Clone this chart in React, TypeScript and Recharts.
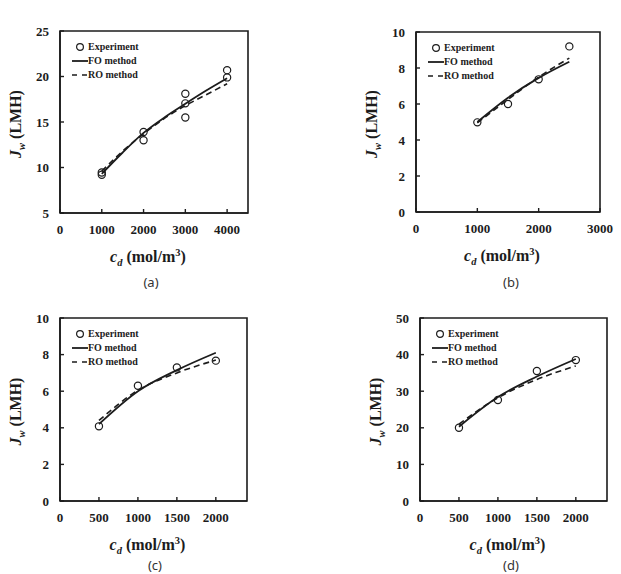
import {
  ComposedChart,
  Line,
  Scatter,
  XAxis,
  YAxis,
  Legend,
  Label,
  ReferenceArea
} from "recharts";

const SERIF = '"Liberation Serif", "Times New Roman", serif';
const INK = "#1c1c1c";

// (a)
const concA = [1000, 1500, 2000, 2500, 3000, 3500, 4000];
const foFluxA = [9.3, 11.65, 13.8, 15.5, 17.0, 18.45, 19.8];
const roFluxA = [9.6, 11.8, 13.7, 15.4, 16.8, 18.0, 19.2];
const expConcA = [1000, 1000, 2000, 2000, 3000, 3000, 3000, 4000, 4000];
const expFluxA = [9.2, 9.45, 13.9, 13.0, 18.1, 17.05, 15.5, 20.7, 19.9];
const xTicksA = [0, 1000, 2000, 3000, 4000];
const yTicksA = [5, 10, 15, 20, 25];

// (b)
const concB = [1000, 1500, 2000, 2500];
const foFluxB = [5.0, 6.35, 7.45, 8.35];
const roFluxB = [4.95, 6.25, 7.5, 8.55];
const expConcB = [1000, 1500, 2000, 2500];
const expFluxB = [4.98, 6.0, 7.37, 9.2];
const xTicksB = [0, 1000, 2000, 3000];
const yTicksB = [0, 2, 4, 6, 8, 10];

// (c)
const concC = [500, 1000, 1500, 2000];
const foFluxC = [4.2, 6.0, 7.15, 8.1];
const roFluxC = [4.4, 6.05, 7.0, 7.7];
const expConcC = [500, 1000, 1500, 2000];
const expFluxC = [4.08, 6.3, 7.3, 7.67];
const xTicksC = [0, 500, 1000, 1500, 2000];
const yTicksC = [0, 2, 4, 6, 8, 10];

// (d)
const concD = [500, 1000, 1500, 2000];
const foFluxD = [20.3, 28.4, 34.0, 38.8];
const roFluxD = [21.0, 28.2, 33.2, 36.9];
const expConcD = [500, 1000, 1500, 2000];
const expFluxD = [20.0, 27.6, 35.5, 38.5];
const xTicksD = [0, 500, 1000, 1500, 2000];
const yTicksD = [0, 10, 20, 30, 40, 50];

type Pt = { c: number; j: number };
const toPoints = (xs: number[], ys: number[]): Pt[] =>
  xs.map((c, i) => ({ c, j: ys[i] }));

const CHART_W = 310;
const CHART_H = 287;
const Y_AXIS_W = 60;
const X_AXIS_H = 40;

const XTitle = ({ viewBox }: any) => {
  const { x, y, width } = viewBox;
  return (
    <text
      x={x + width / 2 - 6}
      y={y + 49}
      textAnchor="middle"
      fill={INK}
      fontFamily={SERIF}
      fontWeight={700}
      fontSize={16}
    >
      <tspan fontStyle="italic">c</tspan>
      <tspan fontStyle="italic" fontSize={10.5} dy={4}>d</tspan>
      <tspan dy={-4}> (mol/m</tspan>
      <tspan fontSize={10.5} dy={-6}>3</tspan>
      <tspan dy={6}>)</tspan>
    </text>
  );
};

const YTitle = ({ viewBox }: any) => {
  const { x, y, width, height } = viewBox;
  const cx = x + width - 44;
  const cy = y + height / 2 + 2;
  return (
    <text
      x={cx}
      y={cy + 5}
      transform={`rotate(-90, ${cx}, ${cy})`}
      textAnchor="middle"
      fill={INK}
      fontFamily={SERIF}
      fontWeight={700}
      fontSize={16}
    >
      <tspan fontStyle="italic">J</tspan>
      <tspan fontStyle="italic" fontSize={10.5} dy={4}>w</tspan>
      <tspan dy={-4}> (LMH)</tspan>
    </text>
  );
};

const FluxLegend = () => {
  const row = { display: "flex", alignItems: "center", height: 14 };
  return (
    <div
      style={{
        fontFamily: SERIF,
        fontWeight: 700,
        fontSize: 10,
        color: INK,
        lineHeight: "14px",
        whiteSpace: "nowrap"
      }}
    >
      <div style={row}>
        <svg width={16} height={14}>
          <circle cx={8} cy={7} r={3.4} fill="none" stroke={INK} strokeWidth={1.2} />
        </svg>
        <span>Experiment</span>
      </div>
      <div style={row}>
        <svg width={16} height={14}>
          <line x1={0} y1={7} x2={16} y2={7} stroke={INK} strokeWidth={1.8} />
        </svg>
        <span>FO method</span>
      </div>
      <div style={row}>
        <svg width={16} height={14}>
          <line
            x1={0}
            y1={7}
            x2={16}
            y2={7}
            stroke={INK}
            strokeWidth={1.6}
            strokeDasharray="5 5"
          />
        </svg>
        <span>RO method</span>
      </div>
    </div>
  );
};

const OpenCircle = (props: any) => (
  <circle
    cx={props.cx}
    cy={props.cy}
    r={3.6}
    fill="none"
    stroke={INK}
    strokeWidth={1.2}
  />
);

interface PanelProps {
  left: number;
  top: number;
  // plot box inside the 310x287 chart
  box: { top: number; right: number; bottom: number; left: number };
  xDomain: [number, number];
  yDomain: [number, number];
  xTicks: number[];
  yTicks: number[];
  fo: Pt[];
  ro: Pt[];
  exp: Pt[];
}

const FluxPanel = ({
  left,
  top,
  box,
  xDomain,
  yDomain,
  xTicks,
  yTicks,
  fo,
  ro,
  exp
}: PanelProps) => {
  const tickStyle = { fill: INK, fontFamily: SERIF, fontWeight: 700, fontSize: 13 };
  const margin = {
    top: box.top,
    right: box.right,
    bottom: box.bottom - X_AXIS_H,
    left: box.left - Y_AXIS_W
  };
  return (
    <div style={{ position: "absolute", left, top }}>
      <ComposedChart width={CHART_W} height={CHART_H} margin={margin}>
        <XAxis
          type="number"
          dataKey="c"
          domain={xDomain}
          ticks={xTicks}
          interval={0}
          allowDataOverflow
          height={X_AXIS_H}
          tickSize={-4}
          tickMargin={16}
          tick={tickStyle}
          axisLine={{ stroke: INK, strokeWidth: 1.6 }}
          tickLine={{ stroke: INK, strokeWidth: 1.4 }}
        >
          <Label content={XTitle} />
        </XAxis>
        <YAxis
          type="number"
          dataKey="j"
          domain={yDomain}
          ticks={yTicks}
          interval={0}
          allowDataOverflow
          width={Y_AXIS_W}
          tickSize={-4}
          tickMargin={15}
          tick={tickStyle}
          axisLine={{ stroke: INK, strokeWidth: 1.6 }}
          tickLine={{ stroke: INK, strokeWidth: 1.4 }}
        >
          <Label content={YTitle} />
        </YAxis>
        <ReferenceArea
          x1={xDomain[0]}
          x2={xDomain[1]}
          y1={yDomain[0]}
          y2={yDomain[1]}
          fill="none"
          fillOpacity={0}
          stroke={INK}
          strokeWidth={1.6}
        />
        <Line
          data={ro}
          dataKey="j"
          type="monotone"
          stroke={INK}
          strokeWidth={1.6}
          strokeDasharray="6 4"
          dot={false}
          activeDot={false}
          isAnimationActive={false}
        />
        <Line
          data={fo}
          dataKey="j"
          type="monotone"
          stroke={INK}
          strokeWidth={1.8}
          dot={false}
          activeDot={false}
          isAnimationActive={false}
        />
        <Scatter data={exp} dataKey="j" shape={OpenCircle} isAnimationActive={false} />
        <Legend
          layout="vertical"
          align="center"
          verticalAlign="middle"
          content={() => <FluxLegend />}
          wrapperStyle={{ left: box.left + 12, top: box.top + 9, width: "auto" }}
        />
      </ComposedChart>
    </div>
  );
};

const Caption = ({ x, y, text }: { x: number; y: number; text: string }) => (
  <div
    style={{
      position: "absolute",
      left: x - 20,
      top: y - 9,
      width: 40,
      textAlign: "center",
      fontFamily: '"Noto Sans", "DejaVu Sans", sans-serif',
      fontSize: 13,
      lineHeight: "18px",
      color: "#333"
    }}
  >
    {text}
  </div>
);

export default function App() {
  return (
    <div
      style={{
        position: "absolute",
        left: 0,
        top: 0,
        width: 621,
        height: 574,
        background: "#fff",
        overflow: "hidden"
      }}
    >
      <FluxPanel
        left={0}
        top={0}
        box={{ top: 31, right: 62, bottom: 74, left: 60 }}
        xDomain={[0, 4500]}
        yDomain={[5, 25]}
        xTicks={xTicksA}
        yTicks={yTicksA}
        fo={toPoints(concA, foFluxA)}
        ro={toPoints(concA, roFluxA)}
        exp={toPoints(expConcA, expFluxA)}
      />
      <FluxPanel
        left={310}
        top={0}
        box={{ top: 32, right: 20, bottom: 75, left: 106 }}
        xDomain={[0, 3000]}
        yDomain={[0, 10]}
        xTicks={xTicksB}
        yTicks={yTicksB}
        fo={toPoints(concB, foFluxB)}
        ro={toPoints(concB, roFluxB)}
        exp={toPoints(expConcB, expFluxB)}
      />
      <FluxPanel
        left={0}
        top={287}
        box={{ top: 31, right: 63, bottom: 73, left: 60 }}
        xDomain={[0, 2400]}
        yDomain={[0, 10]}
        xTicks={xTicksC}
        yTicks={yTicksC}
        fo={toPoints(concC, foFluxC)}
        ro={toPoints(concC, roFluxC)}
        exp={toPoints(expConcC, expFluxC)}
      />
      <FluxPanel
        left={310}
        top={287}
        box={{ top: 31, right: 13, bottom: 73, left: 110 }}
        xDomain={[0, 2400]}
        yDomain={[0, 50]}
        xTicks={xTicksD}
        yTicks={yTicksD}
        fo={toPoints(concD, foFluxD)}
        ro={toPoints(concD, roFluxD)}
        exp={toPoints(expConcD, expFluxD)}
      />
      <Caption x={151} y={282} text="(a)" />
      <Caption x={511} y={282} text="(b)" />
      <Caption x={155} y={565} text="(c)" />
      <Caption x={511} y={565} text="(d)" />
    </div>
  );
}
